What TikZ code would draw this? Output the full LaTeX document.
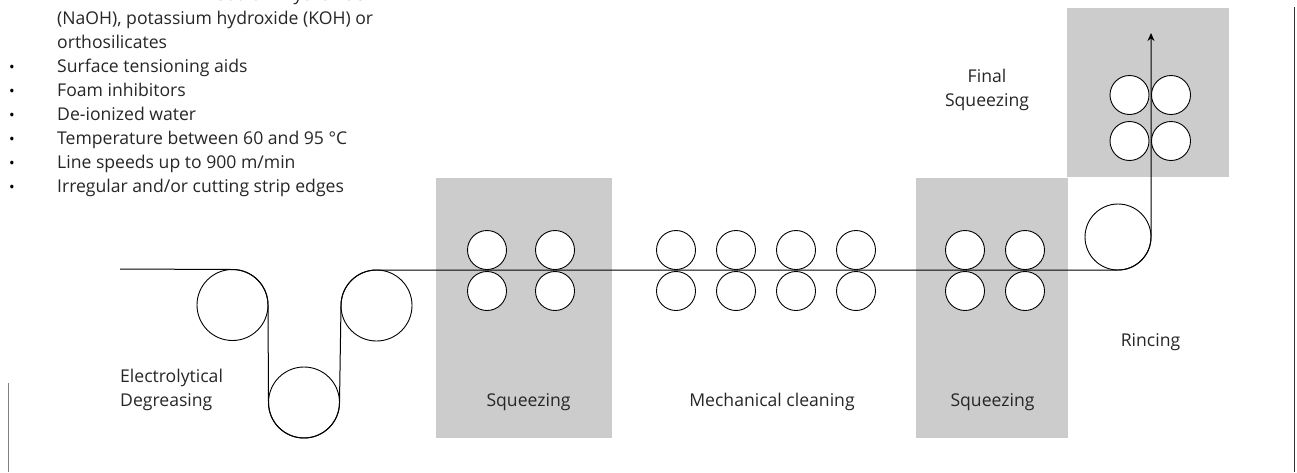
\documentclass[tikz,border=0pt]{standalone}
\usepackage{fontspec}
\usetikzlibrary{arrows.meta}
\setmainfont{Open Sans}
\definecolor{panel}{gray}{0.8}
\definecolor{ink}{gray}{0.15}
\definecolor{rule}{gray}{0.2}
\tikzset{
  panelbox/.style={fill=panel,draw=none},
  bigroll/.style={circle,draw=black,line width=0.9pt,inner sep=0,outer sep=0,minimum size=71pt},
  rinseroll/.style={circle,draw=black,line width=0.9pt,inner sep=0,outer sep=0,minimum size=66pt},
  smallroll/.style={circle,draw=black,line width=0.9pt,inner sep=0,outer sep=0,minimum size=39pt},
  wsmall/.style={smallroll,fill=white},
  lab/.style={font=\fontsize{17.6}{24}\selectfont,text=ink,inner sep=0,anchor=base},
  labl/.style={lab,anchor=base west},
  bul/.style={font=\fontsize{15}{24}\selectfont,text=black,inner sep=0,anchor=base},
  strip/.style={draw=black,line width=1pt},
}
\begin{document}
\begin{tikzpicture}[x=1pt,y=-1pt]
\useasboundingbox (0,0) rectangle (1297,472);
\clip (0,0) rectangle (1297,472);
\path[panelbox] (436,178) rectangle (612,438);
\path[panelbox] (916,178) rectangle (1068,438);
\path[panelbox] (1067,8) rectangle (1229,177);
% text list
\node[lab,anchor=base east] (t0) at (365,0) {sodium hydroxide};
\node[labl] (t1) at (57,24.5) {(NaOH), potassium hydroxide (KOH) or};
\node[labl] (t2) at (57,48.5) {orthosilicates};
\node[labl] (t3) at (57,72.5) {Surface tensioning aids};
\node[labl] (t4) at (57,96.5) {Foam inhibitors};
\node[labl] (t5) at (57,120.5) {De-ionized water};
\node[labl] (t6) at (57,144.5) {Temperature between 60 and 95 °C};
\node[labl] (t7) at (57,168.5) {Line speeds up to 900 m/min};
\node[labl] (t8) at (57,192.5) {Irregular and/or cutting strip edges};
\foreach \yy [count=\i] in {72,96,120,144,168,192}{\node[bul] (b\i) at (12,\yy) {•};}
% stage labels
\node[labl] (e1) at (120,382) {Electrolytical};
\node[labl] (e2) at (120,406) {Degreasing};
\node[lab] (sq1) at (528.5,406) {Squeezing};
\node[lab] (mc) at (772,406) {Mechanical cleaning};
\node[lab] (sq2) at (992.5,406) {Squeezing};
\node[lab] (rin) at (1150.5,346.5) {Rincing};
\node[lab] (fin1) at (987,82) {Final};
\node[lab] (fin2) at (987,106) {Squeezing};
% rollers
\node[bigroll] (r1) at (232.5,305) {};
\node[bigroll] (r2) at (304,402.5) {};
\node[bigroll] (r3) at (376.5,305.5) {};
\node[rinseroll] (r4) at (1118,237) {};
\foreach \x/\n in {487/a,555/b,676/c,736/d,796/e,856/f,965/g,1025/h}{
  \node[wsmall] (\n1) at (\x,250) {};
  \node[wsmall] (\n2) at (\x,291) {};
}
\foreach \x/\n in {1129.5/p,1171/q}{
  \node[wsmall] (\n1) at (\x,95) {};
  \node[wsmall] (\n2) at (\x,141) {};
}
% strip
\coordinate (s0) at (120,269);
\coordinate (s1) at (1151,33);
\draw[strip,-{Stealth[length=8pt,width=7pt]}] (s0) -- (r1.north)
  arc[start angle=90,end angle=0,radius=35.5pt]
  -- (r2.west) arc[start angle=180,end angle=360,radius=35.5pt]
  -- (r3.west) arc[start angle=180,end angle=90,radius=35.5pt]
  -- (r4.south) arc[start angle=270,end angle=360,radius=33pt]
  -- (s1);
% edge rules
\coordinate (la) at (8.5,383);
\coordinate (lb) at (8.5,472);
\coordinate (ra) at (1294.5,7);
\coordinate (rb) at (1294.5,472);
\draw[draw=black!50,line width=1.6pt] (la) -- (lb);
\draw[draw=rule,line width=1.2pt] (ra) -- (rb);
\end{tikzpicture}
\end{document}
